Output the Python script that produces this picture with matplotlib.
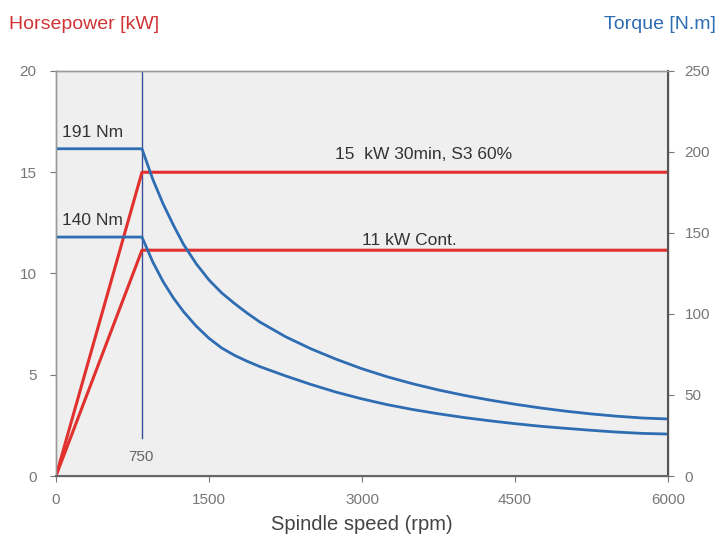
import matplotlib
matplotlib.use('Agg')
import matplotlib.pyplot as plt

plt.rcParams['font.family'] = ['Liberation Sans', 'DejaVu Sans']

# ==================== DATA ====================
corner_rpm = 843

# power curves [kW]
power_rpm = [0, 843, 6000]
power_s3 = [0, 15.0, 15.0]
power_cont = [0, 11.15, 11.15]

# torque curves [N.m]
torque_rpm = [0, 843, 950, 1050, 1150, 1250, 1375, 1500, 1625, 1750, 1875,
              2000, 2250, 2500, 2750, 3000, 3250, 3500, 3750, 4000, 4250,
              4500, 4750, 5000, 5250, 5500, 5750, 6000]
torque_s3 = [202, 202, 183, 168, 155, 143, 131, 121, 113, 106.5, 100.5,
             95, 86, 78.5, 72, 66.2, 61.2, 56.9, 53.1, 49.8, 46.9,
             44.3, 42, 40, 38.3, 36.9, 35.8, 35.2]
torque_cont = [147.5, 147.5, 132, 120, 110, 101.5, 92.5, 85, 79, 74.5, 70.8,
               67.5, 61.8, 56.5, 51.7, 47.6, 44, 41, 38.4, 36.1, 34.1,
               32.3, 30.7, 29.4, 28.2, 27.1, 26.3, 25.9]

x_ticks = [0, 1500, 3000, 4500, 6000]
kw_ticks = [0, 5, 10, 15, 20]
nm_ticks = [0, 50, 100, 150, 200, 250]

red = '#e0312f'
blue = '#2f6db3'
tick_grey = '#777777'

# ==================== PLOT ====================
fig = plt.figure(figsize=(7.25, 5.44), dpi=100)
ax = fig.add_axes([0.0772, 0.125, 0.8442, 0.7445])
ax.set_facecolor('#efefef')
ax2 = ax.twinx()

ax.plot(power_rpm, power_s3, color=red, lw=2.2, zorder=3)
ax.plot(power_rpm, power_cont, color=red, lw=2.2, zorder=3)
ax.axvline(corner_rpm, ymin=0.095, ymax=1, color='#3a4f9a', lw=1, zorder=2)

ax2.plot(torque_rpm, torque_s3, color=blue, lw=2, solid_joinstyle='round')
ax2.plot(torque_rpm, torque_cont, color=blue, lw=2, solid_joinstyle='round')

ax.set_xlim(0, 6000)
ax.set_ylim(0, 20)
ax2.set_ylim(0, 250)
ax.set_xticks(x_ticks)
ax.set_yticks(kw_ticks)
ax2.set_yticks(nm_ticks)

for a in (ax, ax2):
    a.tick_params(colors=tick_grey, labelsize=11, length=4, width=0.8)
    for s in a.spines.values():
        s.set_color('#9a9a9a')
        s.set_linewidth(1)
ax2.spines['right'].set_color('#555555')
ax2.spines['right'].set_linewidth(1.5)
ax2.spines['bottom'].set_color('#666666')
ax2.spines['bottom'].set_linewidth(1.5)
ax.tick_params(axis='x', pad=8)
ax.tick_params(axis='y', pad=10)
ax2.tick_params(axis='y', pad=8)

# annotations
ax.text(60, 16.95, '191 Nm', fontsize=12.5, color='#333333', va='center')
ax.text(60, 12.6, '140 Nm', fontsize=12.5, color='#333333', va='center')
ax.text(3600, 15.9, '15  kW 30min, S3 60%', fontsize=12.5, color='#333333',
        ha='center', va='center')
ax.text(3460, 11.65, '11 kW Cont.', fontsize=12.5, color='#333333',
        ha='center', va='center')
ax.text(830, 0.95, '750', fontsize=11, color='#666666', ha='center', va='center')

ax.set_xlabel('Spindle speed (rpm)', fontsize=14.5, color='#444444', labelpad=6)

fig.text(0.012, 0.955, 'Horsepower [kW]', fontsize=14, color='#d03434',
         ha='left', va='center')
fig.text(0.988, 0.955, 'Torque [N.m]', fontsize=14, color='#2f6db3',
         ha='right', va='center')

fig.savefig('out.png', dpi=100)
